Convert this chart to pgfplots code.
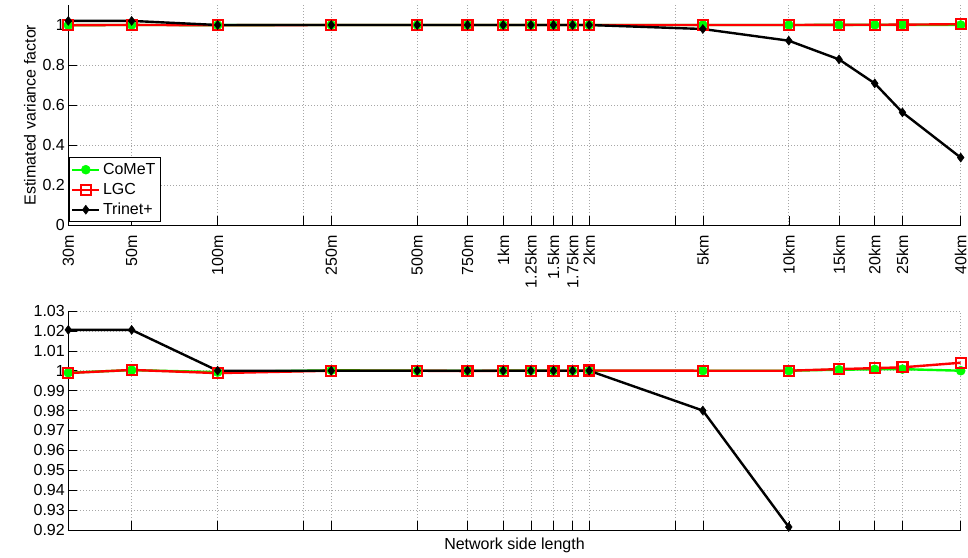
\documentclass[border=0pt]{standalone}
\usepackage{fontspec}
\setmainfont{Liberation Sans}
\usepackage{pgfplots}
\usepackage{pgfplotstable}
\pgfplotsset{compat=1.18}

\definecolor{mgreen}{rgb}{0,1,0}
\definecolor{mred}{rgb}{1,0,0}

\pgfplotstableread{
x comet lgc trinet
30 0.9990 0.9988 1.0205
50 1.0003 1.0004 1.0205
100 0.9993 0.9988 1.0000
250 1.0002 1.0000 1.0000
500 1.0000 1.0000 1.0000
750 1.0000 0.9998 1.0000
1000 1.0000 1.0000 1.0000
1250 1.0001 1.0000 1.0000
1500 1.0000 1.0000 1.0000
1750 1.0000 1.0000 1.0000
2000 1.0000 1.0001 1.0000
5000 1.0000 1.0000 0.9800
10000 1.0000 1.0000 0.9215
15000 1.0005 1.0008 0.828
20000 1.0007 1.0013 0.708
25000 1.0008 1.0017 0.563
40000 1.0000 1.0040 0.337
}\datatable

\begin{document}
\begin{tikzpicture}
\begin{axis}[at={(0pt,0pt)}, anchor=south west, height=220pt,
  scale only axis, width=892.4pt, xmode=log, xmin=30, xmax=40000,
  axis x line*=bottom, axis y line*=left, axis line style={-, black, line width=0.6pt},
  xtick={30,50,100,200,250,500,750,1000,1250,1500,1750,2000,4000,5000,10000,15000,20000,25000,40000},
  minor xtick={}, minor ytick={},
  tick align=inside, major tick length=9pt, tick style={black, line width=0.5pt},
  xmajorgrids, ymajorgrids,
  grid style={gray!70, line width=0.6pt, dash pattern=on 1pt off 2pt},
  tick label style={font=\fontsize{16}{19}\selectfont},
  label style={font=\fontsize{16}{19}\selectfont},
  ymin=0, ymax=1.1, ytick={0,0.2,0.4,0.6,0.8,1}, yticklabels={0,0.2,0.4,0.6,0.8,1},
  xticklabels={30m,50m,100m,,250m,500m,750m,1km,1.25km,1.5km,1.75km,2km,,5km,10km,15km,20km,25km,40km},
  xticklabel style={rotate=90, anchor=east},
  xticklabel shift=7pt,
  ylabel={Estimated variance factor},
  legend cell align=left,
  legend image code/.code={\draw[mark repeat=2,mark phase=2] plot coordinates {(0pt,0pt) (13.5pt,0pt) (27pt,0pt)};},
  legend style={at={(axis description cs:0,0)}, anchor=south west, xshift=0.5pt, yshift=3pt,
    draw=black, fill=white, line width=0.6pt, font=\fontsize{16}{19}\selectfont,
    inner sep=2pt, row sep=0pt,
    nodes={font=\fontsize{16}{19}\selectfont, text height=12pt, text depth=3pt, inner sep=2.5pt}},
]
\addplot[color=mgreen, line width=2.4pt, mark=*, mark size=4.5pt, mark options={solid, fill=mgreen, line width=0.5pt}] table[x=x, y=comet] {\datatable};
\addlegendentry{CoMeT}
\addplot[color=mred, line width=2.4pt, mark=square, mark size=5pt, mark options={solid, line width=2.2pt, fill=none}] table[x=x, y=lgc] {\datatable};
\addlegendentry{LGC}
\addplot[color=black, line width=2.4pt, mark=diamond*, mark size=4.5pt, mark options={solid, fill=black, line width=0.5pt}] table[x=x, y=trinet] {\datatable};
\addlegendentry{Trinet+}
\end{axis}

\begin{axis}[at={(0pt,-305pt)}, anchor=south west, height=219pt,
  scale only axis, width=892.4pt, xmode=log, xmin=30, xmax=40000,
  axis x line*=bottom, axis y line*=left, axis line style={-, black, line width=0.6pt},
  xtick={30,50,100,200,250,500,750,1000,1250,1500,1750,2000,4000,5000,10000,15000,20000,25000,40000},
  minor xtick={}, minor ytick={},
  tick align=inside, major tick length=9pt, tick style={black, line width=0.5pt},
  xmajorgrids, ymajorgrids,
  grid style={gray!70, line width=0.6pt, dash pattern=on 1pt off 2pt},
  tick label style={font=\fontsize{16}{19}\selectfont},
  label style={font=\fontsize{16}{19}\selectfont},
  ymin=0.92, ymax=1.03,
  ytick={0.92,0.93,0.94,0.95,0.96,0.97,0.98,0.99,1,1.01,1.02,1.03},
  yticklabels={0.92,0.93,0.94,0.95,0.96,0.97,0.98,0.99,1,1.01,1.02,1.03},
  xticklabels={},
  xlabel={Network side length},
  xlabel style={at={(axis description cs:0.5,0)}, anchor=north, yshift=-4pt},
]
\addplot[color=mgreen, line width=2.4pt, mark=*, mark size=4.5pt, mark options={solid, fill=mgreen, line width=0.5pt}] table[x=x, y=comet] {\datatable};
\addplot[color=mred, line width=2.4pt, mark=square, mark size=5pt, mark options={solid, line width=2.2pt, fill=none}] table[x=x, y=lgc] {\datatable};
\addplot[color=black, line width=2.4pt, mark=diamond*, mark size=4.5pt, mark options={solid, fill=black, line width=0.5pt}] table[x=x, y=trinet] {\datatable};
\end{axis}
\pgfresetboundingbox
\path[use as bounding box] (-68.3pt,-332pt) rectangle (899.7pt,225pt);
\end{tikzpicture}
\end{document}
